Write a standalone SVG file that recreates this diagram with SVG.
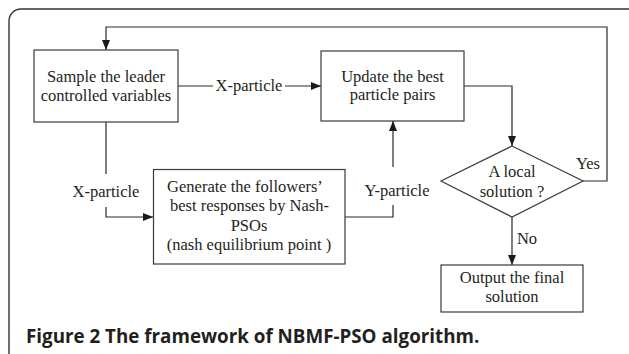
<svg xmlns="http://www.w3.org/2000/svg" width="629" height="354" viewBox="0 0 629 354">
<style>
.box{fill:#fff;stroke:#3a3a3a;stroke-width:1.2}
.ln{fill:none;stroke:#2a2a2a;stroke-width:1.2}
.t{font-family:"Liberation Serif","Times New Roman",serif;font-size:16.5px;fill:#231f20;text-anchor:middle}
.bg{fill:#fff;stroke:none}
.cap{font-family:"Open Sans","Noto Sans",sans-serif;font-weight:bold;font-size:18.8px;fill:#231f20}
</style>
<defs>
<marker id="ah" markerUnits="userSpaceOnUse" markerWidth="11" markerHeight="9" refX="10" refY="4" orient="auto">
<path d="M0,0 L10,4 L0,8 z" fill="#1a1a1a"/>
</marker>
</defs>
<rect x="9" y="9" width="640" height="370" rx="12" ry="12" fill="none" stroke="#333" stroke-width="1.4"/>
<g id="connectors">
<path class="ln" d="M583 181 H607 V27 H106 V50" marker-end="url(#ah)"/>
<path class="ln" d="M178 86 H321" marker-end="url(#ah)"/>
<path class="ln" d="M464 86 H512 V146" marker-end="url(#ah)"/>
<path class="ln" d="M106 122 V217 H153" marker-end="url(#ah)"/>
<path class="ln" d="M345 217 H393 V121" marker-end="url(#ah)"/>
<path class="ln" d="M512 217 V265" marker-end="url(#ah)"/>
<g id="label-x1"><rect class="bg" x="213" y="77" width="72" height="18"/><text class="t" x="249" y="91">X-particle</text></g>
<g id="label-x2"><rect class="bg" x="70" y="174" width="72" height="33"/><text class="t" x="106" y="197">X-particle</text></g>
<g id="label-y"><rect class="bg" x="365" y="167" width="64" height="38"/><text class="t" x="397" y="196">Y-particle</text></g>
<text class="t" x="588" y="169">Yes</text>
<text class="t" x="527" y="244">No</text>
</g>
<g id="sample">
<rect class="box" x="34" y="50" width="144" height="72"/>
<text class="t" x="106" y="82">Sample the leader</text>
<text class="t" x="106" y="101">controlled variables</text>
</g>
<g id="update">
<rect class="box" x="321" y="51" width="143" height="70"/>
<text class="t" x="392.5" y="82">Update the best</text>
<text class="t" x="392.5" y="100">particle pairs</text>
</g>
<g id="decision">
<polygon class="box" points="512,146 583,181 512,217 441,181"/>
<text class="t" x="512" y="177">A local</text>
<text class="t" x="512" y="197">solution ?</text>
</g>
<g id="generate">
<rect class="box" x="153.5" y="169.5" width="191.5" height="94.5"/>
<text class="t" x="245" y="192">Generate the followers’</text>
<text class="t" x="249.5" y="211">best responses by Nash-</text>
<text class="t" x="249" y="230.5">PSOs</text>
<text class="t" x="249" y="250">(nash equilibrium point )</text>
</g>
<g id="output">
<rect class="box" x="441" y="265" width="142" height="47"/>
<text class="t" x="512" y="283">Output the final</text>
<text class="t" x="512" y="302">solution</text>
</g>
<g id="caption">
<text class="cap" x="26" y="343">Figure 2 The framework of NBMF-PSO algorithm.</text>
</g>
</svg>
